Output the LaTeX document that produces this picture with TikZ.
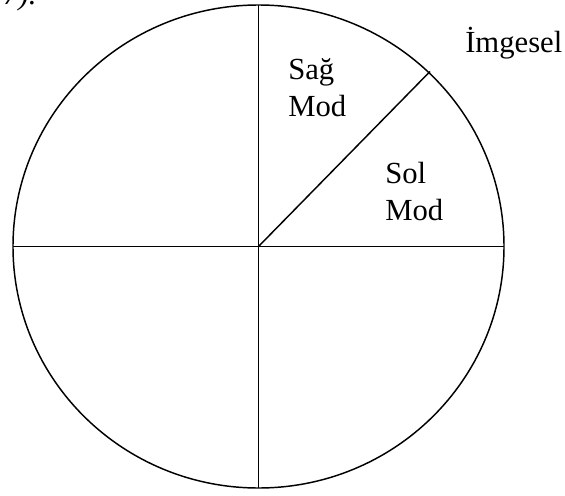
\documentclass[tikz,border=0pt]{standalone}
\usepackage{fontspec}
\setmainfont{Liberation Serif}

\begin{document}
\begin{tikzpicture}[x=0.75pt,y=0.75pt,yscale=-1,xscale=1,
  lbl/.style={anchor=base west,inner sep=0pt,align=left,font=\fontsize{23}{27.75}\selectfont},
  rim/.style={line width=1.1pt}]
\useasboundingbox (0,0) rectangle (565,496);

%Shape: Circle
\coordinate (o) at (258.5,246.5);
\draw [rim] (o) ellipse [x radius=245.5, y radius=241.5];
% points on the rim
\coordinate (top) at (258.5,5);
\coordinate (bot) at (258.5,488);
\coordinate (lft) at (13,246.5);
\coordinate (rgt) at (504,246.5);
\coordinate (img) at (430,71.5);

%Straight Lines
\draw [rim] (top) -- (bot);
\draw [rim] (lft) -- (rgt);
\draw [rim] (o) -- (img);

% Text Node
\node [lbl] (prev) at (3,5) {\itshape 7).};
% Text Node
\node [lbl] (imgesel) at (465,52) {İmgesel};
% Text Node (base sits on the last line)
\node [lbl] (sag) at (288,116) {Sağ\\Mod};
% Text Node
\node [lbl] (sol) at (385,220) {Sol\\Mod};

\end{tikzpicture}
\end{document}
